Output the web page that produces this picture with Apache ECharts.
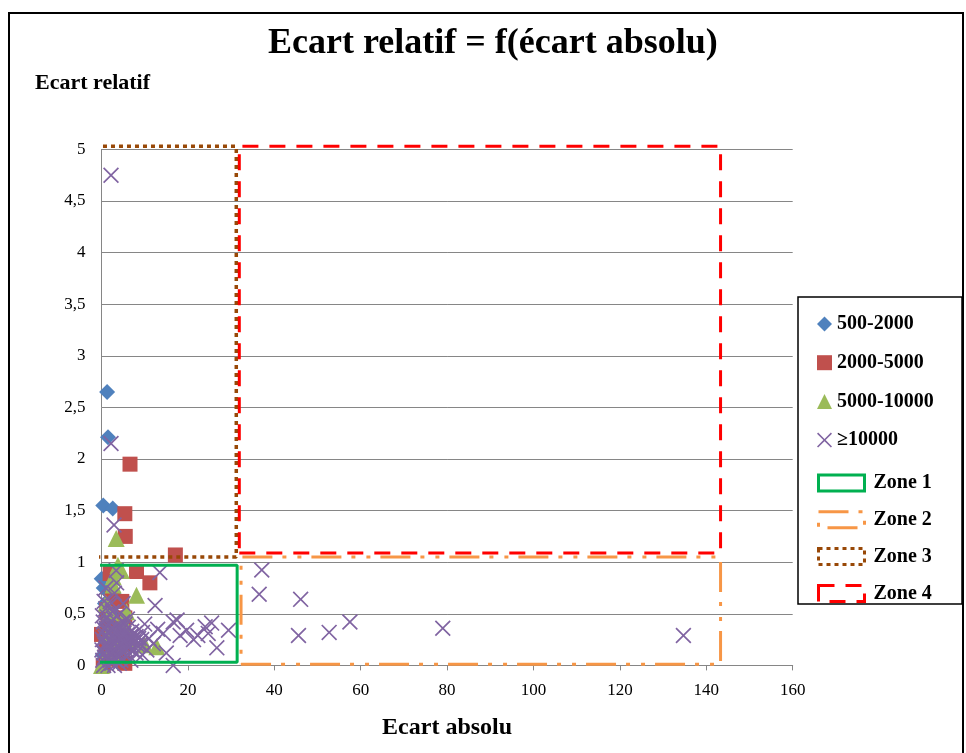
<!DOCTYPE html>
<html><head><meta charset="utf-8">
<script src="https://cdn.jsdelivr.net/npm/echarts@6/dist/echarts.min.js"></script>
<style>html,body{margin:0;padding:0;background:#fff}#c{width:966px;height:753px}</style>
</head><body><div id="c"></div>
<script>
const titleText = 'Ecart relatif = f(écart absolu)';
const xName = 'Ecart absolu';
const yName = 'Ecart relatif';
const seriesNames = ['500-2000', '2000-5000', '5000-10000', '≥10000'];
const zoneNames = ['Zone 1', 'Zone 2', 'Zone 3', 'Zone 4'];

const s500_2000 = [[1.3,2.65],[1.5,2.21],[0.4,1.55],[2.6,1.52],[0.05,0.84],[2.7,0.70],[0.5,0.75],[1,0.4],[0.3,0.1],[2,0.2],[1.5,0.05],[0.2,0.3],[3,0.5],[0.8,0.6]];
const s2000_5000 = [[6.6,1.95],[5.4,1.47],[5.5,1.25],[17.1,1.07],[2.0,0.89],[8.1,0.91],[11.2,0.80],[1.2,0.54],[4.7,0.62],[5.4,0.46],[0.4,0.0],[5.4,0.02],[1.5,0.45],[3,0.3],[2,0.1],[6,0.2],[4,0.05],[0,0.3],[3.5,0.4],[1,0.2],[2.5,0.65]];
const s5000_10000 = [[3.4,1.23],[2.7,0.86],[3.8,0.97],[4.6,0.92],[2.7,0.78],[8.1,0.68],[2.0,0.51],[5.8,0.52],[12.8,0.18],[0,0.0],[1.5,0.3],[6,0.35],[2,0.15],[7,0.25],[4,0.2],[10,0.2],[1,0.6],[4.5,0.4],[3,0.1]];
const s10000 = [[2.2,4.75],[2.2,2.15],[2.9,1.36],[37.1,0.925],[36.5,0.69],[46.1,0.64],[45.6,0.29],[52.7,0.32],[57.5,0.42],[79.0,0.36],[134.7,0.29],
 [13.5,0.90],[3.4,0.92],[12.4,0.58],[16.6,0.42],[17.5,0.44],[19.7,0.34],[24,0.375],[25.5,0.41],[24.7,0.31],[26.7,0.17],[29.4,0.34],[21.3,0.25],[18.2,0.29],[14.3,0.31],[16.6,0.0],[22.3,0.29],[11,0.26],[12,0.21],[10.5,0.15],[13,0.35],[15,0.12],[9.5,0.32],[8.5,0.22],[10,0.4],
 [0.3,0.05],[0.5,0.12],[0.8,0.2],[1,0.3],[1.2,0.08],[1.5,0.15],[1.5,0.4],[1.8,0.25],[2,0.05],[2,0.35],[2.2,0.18],[2.5,0.28],[2.5,0.1],[2.8,0.45],[3,0.2],[3,0.32],[3.2,0.05],[3.5,0.15],[3.5,0.38],[3.8,0.25],[4,0.1],[4,0.3],[4.2,0.5],[4.5,0.2],[4.8,0.35],[5,0.12],[5,0.28],[5.5,0.22],[5.5,0.4],[6,0.18],[6,0.3],[6.5,0.25],[7,0.15],[7,0.33],[7.5,0.22],[8,0.28],[8,0.12],[9,0.2],[1,0.55],[2,0.62],[3,0.7],[1.5,0.0],[0.5,0.0],[3,0.0],[4.5,0.05],[2.5,0.52],[6,0.45],[5,0.6],[3.5,0.8],[1,0.75],[0.2,0.25],[0.6,0.35],[1.3,0.22],[2.7,0.15],[3.3,0.25],[4.3,0.15],[5.3,0.18],[6.3,0.1],[7.3,0.26],[8.3,0.2],[9.3,0.25],[9.5,0.1],
 [0.1,0.15],[0.4,0.42],[0.7,0.08],[0.9,0.27],[1.1,0.36],[1.4,0.19],[1.7,0.32],[1.9,0.11],[2.1,0.42],[2.3,0.24],[2.6,0.36],[2.9,0.07],[3.1,0.27],[3.4,0.33],[3.6,0.09],[3.9,0.19],[4.1,0.36],[4.4,0.26],[4.7,0.13],[4.9,0.42],[5.2,0.31],[5.7,0.15],[5.9,0.26],[6.2,0.37],[6.7,0.19],[6.9,0.29],[7.7,0.31],[8.6,0.26],[0.2,0.48],[1.3,0.47],[2.4,0.02],[3.7,0.48],[1.8,0.58],[0.6,0.62],[4.1,0.02],[6.8,0.05]];

const zone1 = [[-1,0.03],[31.4,0.03],[31.4,0.97],[-1,0.97],[-1,0.03]];
const zone2 = [[32.3,0.01],[143.3,0.01],[143.3,1.05],[32.3,1.05],[32.3,0.01]];
const zone3 = [[-1.2,1.05],[31.2,1.05],[31.2,5.03],[-1.2,5.03],[-1.2,1.05]];
const zone4 = [[31.9,1.09],[143.3,1.09],[143.3,5.03],[31.9,5.03],[31.9,1.09]];

const xTicks = {min:0, max:160, interval:20};
const yTicks = {min:0, max:5, interval:0.5};

const XPATH = 'path://M0,1.5L1.5,0L10,8.5L18.5,0L20,1.5L11.5,10L20,18.5L18.5,20L10,11.5L1.5,20L0,18.5L8.5,10Z';
const colors = ['#4f81bd','#c0504d','#9bbb59','#8064a2'];
const zoneStyles = [
  {color:'#00b050', type:'solid'},
  {color:'#f79646', type:[30,10,4,11,4,10]},
  {color:'#984807', type:[4,4]},
  {color:'#ff0000', type:[16,11]}
];
const serif = 'Liberation Serif, Times New Roman, serif';

const chart = echarts.init(document.getElementById('c'), null, {renderer:'canvas'});
const scatterDefs = [
  {name: seriesNames[0], data: s500_2000, symbol:'diamond', size:16},
  {name: seriesNames[1], data: s2000_5000, symbol:'rect', size:15},
  {name: seriesNames[2], data: s5000_10000, symbol:'triangle', size:17},
  {name: seriesNames[3], data: s10000, symbol:XPATH, size:16}
];
const zoneData = [zone1, zone2, zone3, zone4];
const series = [];
scatterDefs.forEach((d,i)=>{
  series.push({type:'scatter', name:d.name, data:d.data, symbol:d.symbol, symbolSize:d.size,
    itemStyle:{color:colors[i], opacity:1}, z:2, clip:false});
});
zoneData.forEach((d,i)=>{
  series.push({type:'line', name:zoneNames[i], data:d, symbol:'none', clip:false, z:3,
    lineStyle:{color:zoneStyles[i].color, width:i===2?3.5:3, type:zoneStyles[i].type},
    itemStyle:{color:zoneStyles[i].color}, animation:false});
});

chart.setOption({
  animation:false,
  backgroundColor:'#fff',
  title:{text:titleText, left:268, top:26, padding:0, textStyle:{fontFamily:serif, fontWeight:'bold', fontSize:36, color:'#000'}},
  grid:{left:101.5, right:173.3, top:149.4, bottom:87.6, containLabel:false},
  xAxis:{type:'value', min:xTicks.min, max:xTicks.max, interval:xTicks.interval,
    name:xName, nameLocation:'middle', nameGap:50,
    nameTextStyle:{fontFamily:serif, fontWeight:'bold', fontSize:24, color:'#000'},
    axisLine:{show:true, onZero:false, lineStyle:{color:'#868686', width:1}},
    axisTick:{show:true, length:5, lineStyle:{color:'#868686'}},
    axisLabel:{fontFamily:serif, fontSize:17, color:'#000', margin:17},
    splitLine:{show:false}},
  yAxis:{type:'value', min:yTicks.min, max:yTicks.max, interval:yTicks.interval,
    axisLine:{show:true, onZero:false, lineStyle:{color:'#868686', width:1}},
    axisTick:{show:false},
    axisLabel:{fontFamily:serif, fontSize:17, color:'#000', margin:16,
      formatter:v=>String(v).replace('.',',')},
    splitLine:{show:true, lineStyle:{color:'#868686', width:1}}},
  legend:[
    {orient:'vertical', left:812, top:309, itemWidth:15, itemHeight:15, itemGap:18.7,
     textStyle:{fontFamily:serif, fontWeight:'bold', fontSize:20, color:'#000'},
     data:seriesNames.map((n,i)=>({name:n}))},
    {orient:'vertical', left:812, top:468, itemWidth:46, itemHeight:16, itemGap:16.8,
     textStyle:{fontFamily:serif, fontWeight:'bold', fontSize:20, color:'#000', padding:[0,0,0,4]},
     data:zoneNames.map((n,i)=>({name:n, icon:'rect',
       itemStyle:{color:'#fff', borderColor:zoneStyles[i].color, borderWidth:3, borderType:zoneStyles[i].type}}))}
  ],
  graphic:[
    {type:'text', left:35, top:72, style:{text:yName, font:'bold 22px '+serif, fill:'#000'}},
    {type:'rect', shape:{x:798, y:297, width:164, height:307}, style:{fill:'none', stroke:'#000', lineWidth:1.5}, z:-1},
    {type:'rect', shape:{x:9, y:13, width:954, height:760}, style:{fill:'none', stroke:'#000', lineWidth:2}, z:-1}
  ],
  series:series
});
</script>
</body></html>
